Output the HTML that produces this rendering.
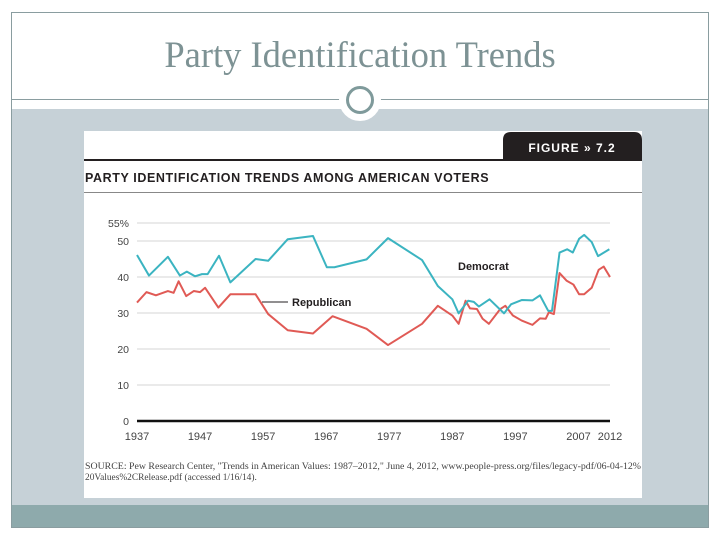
<!DOCTYPE html>
<html><head><meta charset="utf-8"><style>
body{margin:0;width:720px;height:540px;background:#fff;position:relative;overflow:hidden;font-family:"Liberation Sans",sans-serif}
.abs{position:absolute}
</style></head><body>
<div class="abs" style="left:11px;top:12px;width:696px;height:514px;border:1px solid #8a9da0"></div>
<div class="abs" style="left:0;top:33px;width:720px;text-align:center;font-family:'Liberation Serif',serif;font-size:36.5px;color:#7d9294">Party Identification Trends</div>
<div class="abs" style="left:12px;top:99px;width:696px;height:1px;background:#8a9da0"></div>
<div class="abs" style="left:12px;top:109px;width:696px;height:396px;background:#c6d1d7"></div>
<div class="abs" style="left:12px;top:505px;width:696px;height:22px;background:#8eaaac"></div>
<div class="abs" style="left:339px;top:79px;width:34px;height:34px;border-radius:50%;background:#fff;border:4px solid #fff"><div style="margin:3px;width:22px;height:22px;border-radius:50%;border:3px solid #7f9a9b"></div></div>
<svg class="abs" style="left:84px;top:131px" width="558" height="367">
<rect width="558" height="367" fill="#fff"/>
<path d="M419,1 H550 Q558,1 558,9 V29 H419 V9 Q419,1 427,1Z" fill="#231f20"/>
<text x="488" y="21" fill="#fff" font-size="12" font-weight="bold" text-anchor="middle" letter-spacing="1">FIGURE » 7.2</text>
<rect x="0" y="28" width="558" height="2" fill="#231f20"/>
<text x="1" y="51" font-size="12.5" font-weight="900" fill="#231f20" letter-spacing="0.6">PARTY IDENTIFICATION TRENDS AMONG AMERICAN VOTERS</text>
<rect x="0" y="61" width="558" height="1" fill="#888"/>
<g id="grid"></g><g id="lines"></g>
<text x="374" y="139" font-size="11" font-weight="bold" fill="#231f20">Democrat</text>
<line x1="178" y1="171" x2="204" y2="171" stroke="#231f20"/>
<text x="208" y="175" font-size="11" font-weight="bold" fill="#231f20">Republican</text>
<text x="1" y="338" font-size="9.4" fill="#444" font-family="Liberation Serif,serif" textLength="556" lengthAdjust="spacingAndGlyphs">SOURCE: Pew Research Center, "Trends in American Values: 1987–2012," June 4, 2012, www.people-press.org/files/legacy-pdf/06-04-12%</text>
<text x="1" y="349" font-size="9.4" fill="#444" font-family="Liberation Serif,serif">20Values%2CRelease.pdf (accessed 1/16/14).</text>
</svg>
<script>
const yTicks=[0,10,20,30,40,50,55];
const xTicks=[1937,1947,1957,1967,1977,1987,1997,2007,2012];
const demYears=[1937,1938.9,1941.9,1943.8,1944.9,1946.2,1947.3,1948.2,1950,1951.8,1955.8,1957.8,1960.9,1964.9,1967.1,1968.3,1973.4,1976.8,1982.2,1984.7,1987,1988,1989.5,1990.4,1991.2,1992.9,1995.2,1996.3,1998,1999.7,2000.9,2002.2,2002.8,2004,2005.2,2006.1,2007.1,2007.9,2009.1,2010.1,2011.9];
const demValues=[46.1,40.4,45.6,40.4,41.5,40.2,40.8,40.8,45.9,38.5,45,44.5,50.5,51.4,42.7,42.7,44.9,50.8,44.7,37.5,33.8,29.9,33.4,33.1,31.8,33.8,29.9,32.4,33.6,33.5,34.9,30.6,30.6,46.8,47.7,46.8,50.6,51.7,49.7,45.8,47.7];
const repYears=[1937,1938.5,1940,1941.9,1942.8,1943.6,1944.8,1946,1947,1947.8,1949.9,1951.8,1955.8,1957.8,1960.9,1964.9,1968,1973.4,1976.8,1982.2,1984.7,1987,1988,1989.1,1989.8,1990.9,1991.8,1992.8,1994.6,1995.4,1996.6,1998,1999.7,2000.9,2001.8,2002.3,2003.1,2004,2005.1,2006.2,2007.1,2007.9,2009.1,2010.2,2011,2012];
const repValues=[32.9,35.8,34.9,36.1,35.6,38.8,34.7,36.1,35.8,37,31.5,35.2,35.2,29.7,25.2,24.3,29.1,25.6,21.1,27,32,29.3,27,33.4,31.3,31.1,28.4,27,31.1,32,29.3,27.9,26.7,28.5,28.4,30.2,29.7,41.1,39,37.9,35.2,35.2,37,42,42.9,40];
const NS='http://www.w3.org/2000/svg';
function X(yr){return 53+(yr-1937)*(526-53)/75;}
function Y(v){return 290-v*3.6;}
const grid=document.getElementById('grid'),lines=document.getElementById('lines');
function mk(t,a,p){const e=document.createElementNS(NS,t);for(const k in a)e.setAttribute(k,a[k]);p.appendChild(e);return e;}
yTicks.forEach(v=>{
  const l=mk('line',{x1:53,x2:526,y1:Y(v),y2:Y(v),stroke:v===0?'#111':'#d4d4d4','stroke-width':v===0?2.5:1},grid);
  
  
  const t=mk('text',{x:45,y:Y(v)+4,'text-anchor':'end','font-size':10.5,fill:'#444'},grid);
  t.textContent=v===55?'55%':v;
  
  
});
xTicks.forEach(yr=>{
  const t=mk('text',{x:X(yr),y:309,'text-anchor':'middle','font-size':11,fill:'#444'},grid);
  t.textContent=yr;
  
  
});
function series(ys,vs,color,name){
  const p=mk('polyline',{points:ys.map((y,i)=>X(y)+','+Y(vs[i])).join(' '),fill:'none',stroke:color,'stroke-width':2,'stroke-linejoin':'round'},lines);
  
  
}
series(repYears,repValues,'#e05a55','republican-line');
series(demYears,demValues,'#3bb4c1','democrat-line');
</script>
</body></html>
